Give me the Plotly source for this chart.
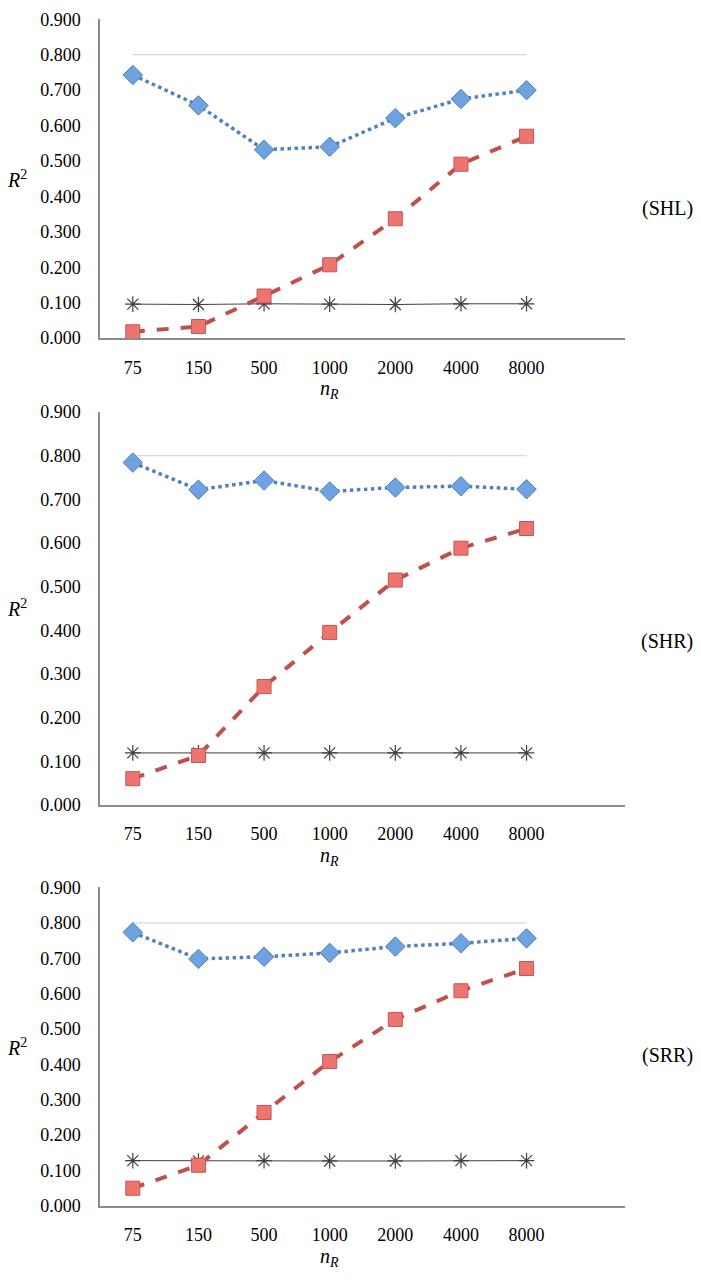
import plotly.graph_objects as go

categories = ["75", "150", "500", "1000", "2000", "4000", "8000"]
panel_labels = ["(SHL)", "(SHR)", "(SRR)"]

# Panel 1 (SHL)
shl_blue = [0.743, 0.657, 0.532, 0.540, 0.621, 0.675, 0.700]
shl_red = [0.018, 0.033, 0.119, 0.207, 0.337, 0.491, 0.570]
shl_black = [0.096, 0.095, 0.097, 0.096, 0.095, 0.097, 0.097]
# Panel 2 (SHR)
shr_blue = [0.784, 0.722, 0.743, 0.718, 0.727, 0.730, 0.723]
shr_red = [0.060, 0.113, 0.271, 0.395, 0.515, 0.588, 0.633]
shr_black = [0.119, 0.119, 0.119, 0.119, 0.119, 0.119, 0.119]
# Panel 3 (SRR)
srr_blue = [0.773, 0.698, 0.704, 0.715, 0.733, 0.742, 0.756]
srr_red = [0.050, 0.115, 0.264, 0.408, 0.527, 0.608, 0.671]
srr_black = [0.128, 0.127, 0.128, 0.127, 0.127, 0.128, 0.128]
reference = [0.8, 0.8, 0.8, 0.8, 0.8, 0.8, 0.8]

y_ticks = [0.0, 0.1, 0.2, 0.3, 0.4, 0.5, 0.6, 0.7, 0.8, 0.9]

panels = [
    (shl_blue, shl_red, shl_black),
    (shr_blue, shr_red, shr_black),
    (srr_blue, srr_red, srr_black),
]

# page body has an 8px default margin; size the figure so it fits the window
OFF = 8
W, H = 701 - 2 * OFF, 1281 - 2 * OFF


def px_x(p):
    return (p - OFF) / W


def px_y(p):
    return 1 - (p - OFF) / H


# window-pixel positions (top of 0.9, bottom 0.0) for each panel
panel_px = [(9.3, 333.3), (408.3, 807.5), (891.4, 1215.0)]
label_px = [202, 642, 1062]
x_left, x_right = 100, 625

serif = "Liberation Serif, Times New Roman, serif"
fig = go.Figure()
xs = list(range(len(categories)))

for i, (blue, red, black) in enumerate(panels):
    n = "" if i == 0 else str(i + 1)
    xa, ya = "x" + n, "y" + n
    fig.add_trace(go.Scatter(x=xs, y=reference, mode="lines",
                             line=dict(color="#D9D9D9", width=1.2),
                             xaxis=xa, yaxis=ya, showlegend=False, hoverinfo="skip"))
    fig.add_trace(go.Scatter(x=xs, y=black, mode="lines+markers",
                             line=dict(color="#404040", width=1),
                             marker=dict(symbol="asterisk-open", size=13,
                                         line=dict(color="#404040", width=1.2)),
                             xaxis=xa, yaxis=ya, showlegend=False))
    fig.add_trace(go.Scatter(x=xs, y=red, mode="lines+markers",
                             line=dict(color="#C0504D", width=4, dash="dash"),
                             marker=dict(symbol="square", size=14, color="#EE7470",
                                         line=dict(color="#C65450", width=1)),
                             xaxis=xa, yaxis=ya, showlegend=False))
    fig.add_trace(go.Scatter(x=xs, y=blue, mode="lines+markers",
                             line=dict(color="#4F81BD", width=3.5, dash="dot"),
                             marker=dict(symbol="diamond", size=15, color="#6FA2E0",
                                         line=dict(color="#4F81BD", width=1)),
                             xaxis=xa, yaxis=ya, showlegend=False))

    top, bot = panel_px[i]
    dom_y = [px_y(bot), px_y(top)]
    axis_common = dict(showgrid=False, zeroline=False, showline=True,
                       linecolor="#8C8C8C", linewidth=1.5,
                       tickfont=dict(family=serif, size=18, color="#000000"))
    fig.layout["xaxis" + n] = dict(domain=[px_x(x_left), px_x(x_right)], range=[-0.5, 7.5],
                                   tickvals=xs, ticktext=categories, anchor=ya,
                                   ticks="", ticklabelstandoff=12, **axis_common)
    fig.layout["yaxis" + n] = dict(domain=dom_y, range=[0, 0.9], tickvals=y_ticks,
                                   ticktext=[f"{v:.3f}" for v in y_ticks], anchor=xa,
                                   ticks="", ticklabelstandoff=14, **axis_common)

    # x axis title
    fig.add_annotation(x=3, y=px_y(bot + 52), xref=xa, yref="paper",
                       text="<i>n</i><sub><i>R</i></sub>", showarrow=False,
                       font=dict(family=serif, size=20, color="#000000"),
                       yanchor="middle", xanchor="center")
    # y axis title
    fig.add_annotation(x=px_x(17), y=px_y((top + bot) / 2), xref="paper", yref="paper",
                       text="<i>R</i><sup>2</sup>", showarrow=False,
                       font=dict(family=serif, size=20, color="#000000"),
                       xanchor="center", yanchor="middle")
    # panel label
    fig.add_annotation(x=px_x(667), y=px_y(label_px[i]), xref="paper", yref="paper",
                       text=panel_labels[i], showarrow=False,
                       font=dict(family=serif, size=20, color="#000000"),
                       xanchor="center", yanchor="middle")

fig.update_layout(width=W, height=H, margin=dict(l=0, r=0, t=0, b=0),
                  paper_bgcolor="white", plot_bgcolor="white")

fig.write_html("out.html")
